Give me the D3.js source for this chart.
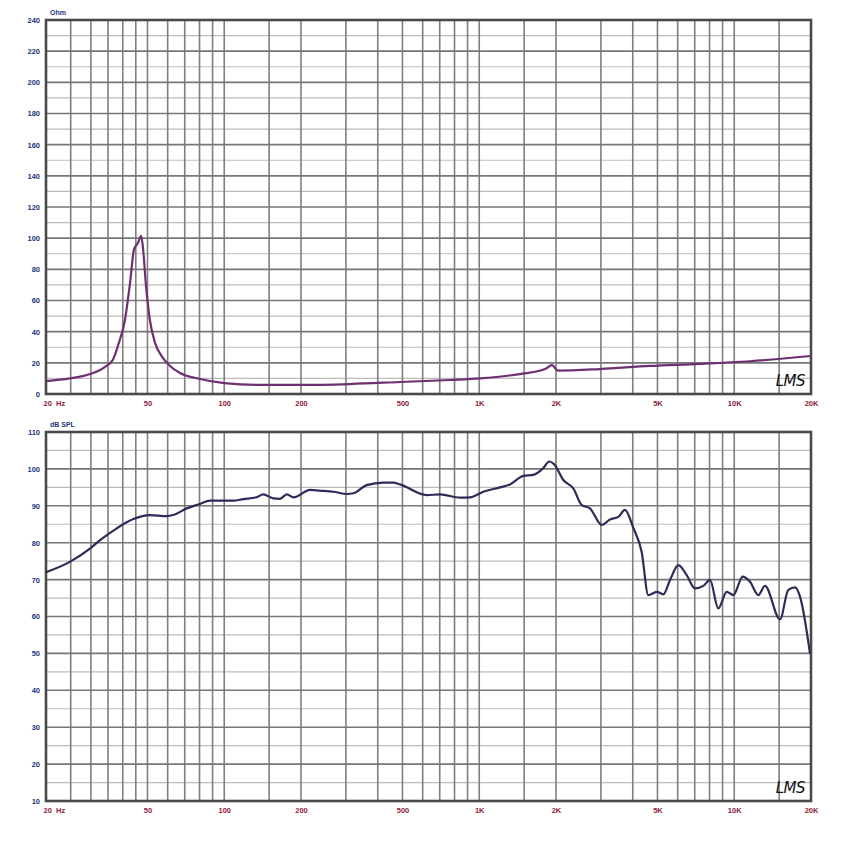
<!DOCTYPE html>
<html><head><meta charset="utf-8">
<script src="https://cdn.jsdelivr.net/npm/d3@7"></script>
<style>body{margin:0;background:#fff}svg{display:block}</style>
</head><body>
<script>
// ---- data ----
const impFreq = [20,24.8,30,34,36.6,38.3,40.8,42.7,44.3,45.9,47.2,48,49.3,51.1,53.5,57,61.3,67.1,80.4,100,138,198,311,489,768,1007,1445,1811,1929,2036,2975,4674,7342,11533,20000];
const impOhm  = [8.3,10,13,17.3,22,31,47.5,71,93,97,101.5,94,70,47.5,33,24,18,13.5,9.6,7,5.8,5.8,6.4,7.7,9,10,12.8,16,18.5,15,16,18,19.3,21,24.4];

const splFreq = [20,24.8,30,32.6,37.9,44,51.1,59.5,63.1,71.3,80.4,87.9,108.5,118.8,134,142,156,165,176,187,217,237,268,302,321,362,420,460,489,622,702,841,920,1037,1206,1320,1489,1629,1783,1882,1964,2137,2338,2523,2718,3022,3256,3510,3729,4020,4335,4603,4965,5272,5600,6036,6510,7017,7564,8034,8660,9342,9916,10797,11533,12428,13198,15118,16293,17312,18112,19816];
const splDb   = [72,74.8,78.6,80.7,83.9,86.4,87.5,87.2,87.5,89.3,90.5,91.4,91.4,91.8,92.3,93.1,92.0,91.9,93.1,92.3,94.3,94.1,93.8,93.2,93.4,95.6,96.3,96.3,95.8,92.9,93.1,92.2,92.3,93.8,95.0,95.8,98.1,98.4,100.2,102.0,101.3,97.0,94.7,90.2,89.3,84.8,86.3,87.0,88.9,84,77.5,65.8,66.7,66.0,69.9,73.9,71.2,67.6,68.3,69.9,62.2,66.7,65.8,70.8,69.4,65.8,68.3,59.2,67.2,67.9,65.4,50.0];

const xTickValues = [20,50,100,200,500,1000,2000,5000,10000,20000];
const xTickLabels = ["20  Hz","50","100","200","500","1K","2K","5K","10K","20K"];
const gridFreqs = [25,30,35,40,45,50,60,70,80,90,100,150,200,300,400,500,600,700,800,900,1000,1500,2000,3000,4000,5000,6000,7000,8000,9000,10000,15000];
const ohmTicks = [0,20,40,60,80,100,120,140,160,180,200,220,240];
const dbTicks = [10,20,30,40,50,60,70,80,90,100,110];
const ohmUnit = "Ohm";
const dbUnit = "dB SPL";

// ---- drawing ----
const W = 850, H = 851;
const svg = d3.select("body").append("svg").attr("width", W).attr("height", H)
  .style("font-family", "'Liberation Sans', Arial, sans-serif");
svg.append("rect").attr("width", W).attr("height", H).attr("fill", "#fff");

const x = d3.scaleLog().domain([20, 20000]).range([46, 811]);

function panel(top, bottom, yDomain, yTicks, unit, freqs, vals, color) {
  const y = d3.scaleLinear().domain(yDomain).range([bottom, top]);
  const g = svg.append("g");
  const step = yTicks[1] - yTicks[0];
  const minor = yTicks.slice(0, -1).map(v => v + step / 2);
  g.selectAll(".hmin").data(minor).join("line")
    .attr("x1", x.range()[0]).attr("x2", x.range()[1])
    .attr("y1", d => y(d)).attr("y2", d => y(d))
    .attr("stroke", "#bcbcbc").attr("stroke-width", 1.2);
  g.selectAll(".v").data(gridFreqs).join("line")
    .attr("x1", d => x(d)).attr("x2", d => x(d))
    .attr("y1", top).attr("y2", bottom)
    .attr("stroke", "#7f7f7f").attr("stroke-width", 1.6);
  g.selectAll(".hmaj").data(yTicks).join("line")
    .attr("x1", x.range()[0]).attr("x2", x.range()[1])
    .attr("y1", d => y(d)).attr("y2", d => y(d))
    .attr("stroke", "#777").attr("stroke-width", 1.6);
  g.append("rect").attr("x", x.range()[0]).attr("y", top)
    .attr("width", x.range()[1] - x.range()[0]).attr("height", bottom - top)
    .attr("fill", "none").attr("stroke", "#4a4a4a").attr("stroke-width", 2.6);
  const yAxis = d3.axisLeft(y).tickValues(yTicks).tickSize(0).tickPadding(6).tickFormat(d3.format("d"));
  const ya = g.append("g").attr("transform", `translate(${x.range()[0]},0)`).call(yAxis);
  ya.select(".domain").remove();
  ya.selectAll("text").attr("fill", "#23357a").attr("font-size", 7.5).attr("font-weight", "bold");
  const xAxis = d3.axisBottom(x).tickValues(xTickValues).tickSize(0).tickPadding(7)
    .tickFormat((d, i) => xTickLabels[i]);
  const xa = g.append("g").attr("transform", `translate(0,${bottom})`).call(xAxis);
  xa.select(".domain").remove();
  xa.selectAll("text").attr("fill", "#8c1c3c").attr("font-size", 7.5).attr("font-weight", "bold")
    .attr("text-anchor", (d, i) => i === 0 ? "start" : "middle")
    .attr("dx", (d, i) => i === 0 ? -3 : 0)
    .style("white-space", "pre").attr("xml:space", "preserve");
  g.append("text").attr("x", 50).attr("y", top - 5).text(unit)
    .attr("fill", "#23357a").attr("font-size", 7).attr("font-weight", "bold");
  const pts = freqs.map((f, i) => [f, vals[i]]);
  const line = d3.line().x(d => x(d[0])).y(d => y(d[1])).curve(d3.curveMonotoneX);
  g.append("path").datum(pts).attr("d", line).attr("fill", "none")
    .attr("stroke", color).attr("stroke-width", 2.2).attr("stroke-linejoin", "round");
  g.append("text").attr("x", 805).attr("y", bottom - 8).attr("text-anchor", "end")
    .text("LMS").attr("font-family", "'DejaVu Sans', sans-serif").attr("font-style", "italic")
    .attr("font-size", 15).attr("fill", "#111").attr("letter-spacing", -0.5);
}

panel(20, 394, [0, 240], ohmTicks, ohmUnit, impFreq, impOhm, "#6e2f72");
panel(432, 801, [10, 110], dbTicks, dbUnit, splFreq, splDb, "#2c2c58");
</script>
</body></html>
